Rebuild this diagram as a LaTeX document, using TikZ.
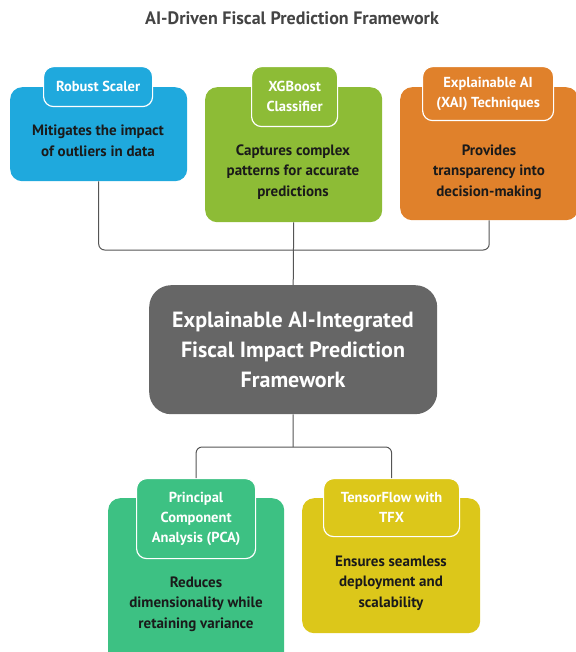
\documentclass[tikz,border=0pt]{standalone}
\usepackage{fontspec}
\setmainfont{PT Sans}
\usetikzlibrary{positioning}
\definecolor{cblue}{HTML}{1FA9DD}
\definecolor{cgreen}{HTML}{8DBC36}
\definecolor{corange}{HTML}{E0812B}
\definecolor{cgray}{HTML}{666666}
\definecolor{cmint}{HTML}{3DC183}
\definecolor{cyellow}{HTML}{DCC71A}
\definecolor{ctext}{HTML}{1A1A1A}
\definecolor{cline}{HTML}{555555}
\begin{document}
\begin{tikzpicture}[x=1pt, y=-1pt,
  card/.style={rounded corners=12pt, inner sep=0pt, anchor=north west},
  tab/.style={rounded corners=10pt, draw=white, line width=1.2pt, inner sep=0pt, anchor=north west,
    text=white, font=\bfseries\fontsize{14.5}{20}\selectfont, align=center},
  body/.style={text=ctext, font=\bfseries\fontsize{15}{20.5}\selectfont, align=center},
  link/.style={draw=cline, line width=1pt, rounded corners=6pt}]
\useasboundingbox (0,0) rectangle (575,652);
\node (title) at (292,18) {\bfseries\fontsize{18}{20}\selectfont\color{cline!80!black} AI-Driven Fiscal Prediction Framework};
% top row
\node (robust)[card, fill=cblue, minimum width=177pt, minimum height=94pt] at (10,87) {};
\node (robusttab)[tab, fill=cblue, minimum width=109pt, minimum height=40pt] at (43,66) {Robust Scaler};
\node (robusttxt)[body] at (98,141) {Mitigates the impact\\of outliers in data};
\node (xgb)[card, fill=cgreen, minimum width=177pt, minimum height=135pt] at (205,87) {};
\node (xgbtab)[tab, fill=cgreen, minimum width=86pt, minimum height=60pt] at (251,66) {XGBoost\\Classifier};
\node (xgbtxt)[body] at (293,172) {Captures complex\\patterns for accurate\\predictions};
\node (xai)[card, fill=corange, minimum width=178pt, minimum height=133pt] at (400,87) {};
\node (xaitab)[tab, fill=corange, minimum width=131pt, minimum height=54pt] at (422,66) {Explainable AI\\(XAI) Techniques};
\node (xaitxt)[body] at (489,172) {Provides\\transparency into\\decision-making};
% centre
\node (core)[card, rounded corners=22pt, fill=cgray, minimum width=288pt, minimum height=129pt] at (149,285) {};
\node (coretxt)[text=white, font=\bfseries\fontsize{22}{30}\selectfont, align=center] at (293,350)
  {Explainable AI-Integrated\\Fiscal Impact Prediction\\Framework};
% bottom row
\node (pca)[card, fill=cmint, minimum width=176pt, minimum height=170pt] at (108,498) {};
\node (pcatab)[tab, fill=cmint, minimum width=119pt, minimum height=80pt] at (136,478) {Principal\\Component\\Analysis (PCA)};
\node (pcatxt)[body] at (196,604) {Reduces\\dimensionality while\\retaining variance};
\node (tfx)[card, fill=cyellow, minimum width=178pt, minimum height=135pt] at (302,498) {};
\node (tfxtab)[tab, fill=cyellow, minimum width=136pt, minimum height=58pt] at (323,478) {TensorFlow with\\TFX};
\node (tfxtxt)[body] at (391,583) {Ensures seamless\\deployment and\\scalability};
% connectors
\coordinate (topbus) at (293,250);
\coordinate (lowbus) at (293,447);
\draw[link] (robust.south) |- (topbus) -| (xai.south);
\draw[link] (xgb.south) -- (core.north);
\draw[link] (core.south) -- (lowbus);
\draw[link] (pcatab.north) |- (lowbus) -| (tfxtab.north);
\end{tikzpicture}
\end{document}
